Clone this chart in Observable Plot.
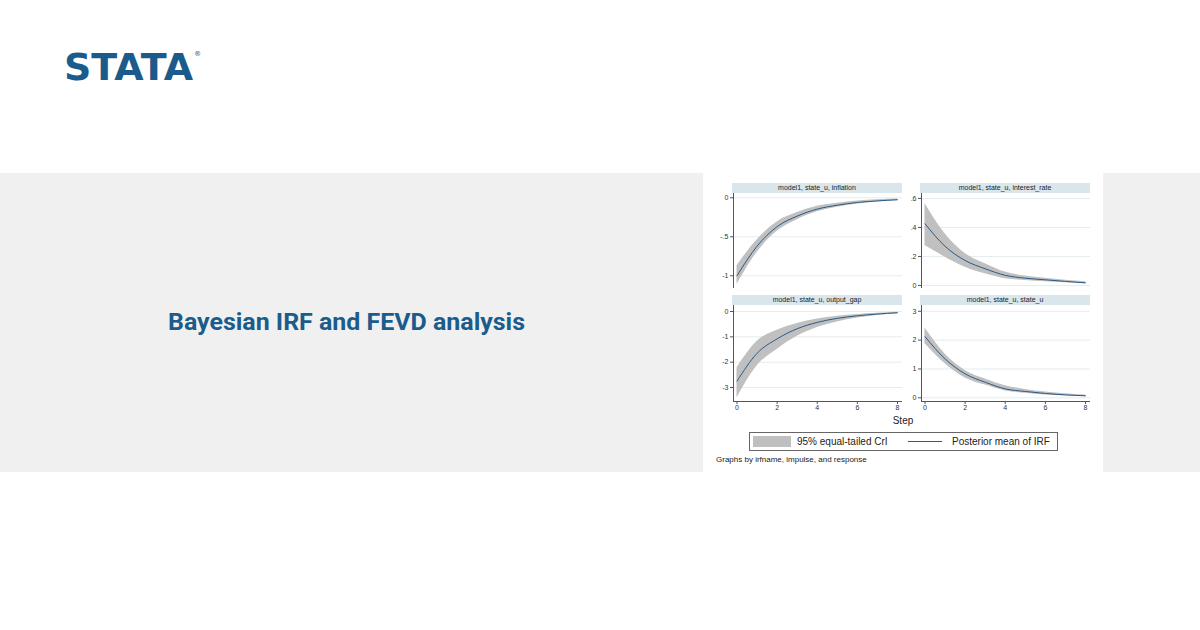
<!DOCTYPE html>
<html>
<head>
<meta charset="utf-8">
<script src="https://cdn.jsdelivr.net/npm/d3@7"></script>
<script src="https://cdn.jsdelivr.net/npm/@observablehq/plot@0.6"></script>
<style>
  html, body { margin: 0; padding: 0; background: #ffffff; }
  #page { position: relative; width: 1200px; height: 630px; overflow: hidden; font-family: "Liberation Sans", Arial, sans-serif; }
  .abs { position: absolute; }
  .band { left: 0; top: 173px; width: 1200px; height: 299px; background: #f0f0f0; }
  .card { left: 703px; top: 173px; width: 400px; height: 299px; background: #ffffff; }
  .strip { height: 10px; width: 170px; background: #d9e6ec; color: #222; font-size: 7px; line-height: 10px; text-align: center; white-space: nowrap; }
  .panel svg { overflow: visible; }
  .legend { left: 749px; top: 432px; width: 307px; height: 17px; border: 1px solid #666; background: #fff; font-size: 10px; color: #222; }
  .legend .sw { position: absolute; left: 3px; top: 3px; width: 38px; height: 11px; background: #bfbfbf; }
  .legend .ln { position: absolute; left: 158px; top: 8px; width: 34px; height: 0; border-top: 1px solid #2a5a85; }
  .legend .t1 { position: absolute; left: 47px; top: 2px; line-height: 13px; }
  .legend .t2 { position: absolute; left: 202px; top: 2px; line-height: 13px; }
</style>
</head>
<body>
<div id="page">
  <svg class="abs" style="left:0;top:0" width="600" height="120">
    <text x="64" y="79.5" fill="#1a5b8c" font-family="DejaVu Sans" font-weight="bold" font-size="37" textLength="129" lengthAdjust="spacingAndGlyphs">STATA</text>
    <text x="194" y="56" fill="#1a5b8c" font-family="DejaVu Sans" font-size="7">®</text>
  </svg>
  <div class="abs band"></div>
  <div class="abs card"></div>
  <svg class="abs" style="left:0;top:173px" width="700" height="299">
    <text x="168" y="156.5" fill="#1b5c8d" font-family="Roboto" font-weight="bold" font-size="24" textLength="357" lengthAdjust="spacingAndGlyphs">Bayesian IRF and FEVD analysis</text>
  </svg>
  <div id="charts"></div>
  <div class="abs" style="left:853px;top:414px;width:100px;text-align:center;font-size:10px;color:#222;line-height:14px">Step</div>
  <div class="abs legend">
    <div class="sw"></div><div class="t1">95% equal-tailed CrI</div>
    <div class="ln"></div><div class="t2">Posterior mean of IRF</div>
  </div>
  <div class="abs" style="left:716px;top:455px;font-size:8px;color:#222;white-space:nowrap">Graphs by irfname, impulse, and response</div>
</div>
<script>
// Impulse-response steps
const steps = [0, 1, 2, 3, 4, 5, 6, 7, 8];

// Response of inflation to a state_u shock
const inflationMean = [-1.0, -0.62, -0.37, -0.235, -0.145, -0.095, -0.06, -0.04, -0.025];
const inflationLo   = [-1.11, -0.70, -0.43, -0.28, -0.18, -0.12, -0.08, -0.055, -0.035];
const inflationHi   = [-0.87, -0.54, -0.31, -0.19, -0.11, -0.07, -0.04, -0.025, -0.015];

// Response of interest_rate
const interestMean = [0.425, 0.27, 0.172, 0.115, 0.07, 0.05, 0.039, 0.028, 0.018];
const interestLo   = [0.275, 0.195, 0.126, 0.08, 0.046, 0.034, 0.025, 0.018, 0.012];
const interestHi   = [0.565, 0.356, 0.22, 0.15, 0.092, 0.065, 0.05, 0.036, 0.025];

// Response of output_gap
const outputMean = [-2.75, -1.65, -1.08, -0.68, -0.43, -0.27, -0.17, -0.10, -0.05];
const outputLo   = [-3.41, -2.15, -1.5, -0.98, -0.63, -0.41, -0.26, -0.16, -0.09];
const outputHi   = [-2.22, -1.18, -0.74, -0.47, -0.30, -0.19, -0.12, -0.07, -0.03];

// Response of state_u to its own shock
const stateMean = [2.12, 1.35, 0.83, 0.54, 0.31, 0.22, 0.15, 0.10, 0.07];
const stateLo   = [1.87, 1.18, 0.69, 0.44, 0.24, 0.16, 0.10, 0.07, 0.04];
const stateHi   = [2.42, 1.52, 0.95, 0.65, 0.42, 0.29, 0.20, 0.14, 0.10];

// Panel titles and axis ticks
const panelTitles = [
  "model1, state_u, inflation",
  "model1, state_u, interest_rate",
  "model1, state_u, output_gap",
  "model1, state_u, state_u"
];
const xTicks = [0, 2, 4, 6, 8];
const inflationTicks = [0, -0.5, -1];
const interestTicks = [0, 0.2, 0.4, 0.6];
const outputTicks = [0, -1, -2, -3];
const stateTicks = [0, 1, 2, 3];

// Stata-style number labels: drop the leading zero (".5", "-.5")
const stataFmt = d => String(+d.toFixed(4)).replace(/^(-?)0\./, "$1.");

const rows = (mean, lo, hi) => steps.map((s, i) => ({step: s, mean: mean[i], lo: lo[i], hi: hi[i]}));

const xDomain = [-0.1745, 8.249];
const panels = [
  {title: panelTitles[0], data: rows(inflationMean, inflationLo, inflationHi), yDomain: [-1.163, 0.055], yTicks: inflationTicks, left: 703, top: 193, bottom: false},
  {title: panelTitles[1], data: rows(interestMean, interestLo, interestHi), yDomain: [-0.021, 0.634], yTicks: interestTicks, left: 891, top: 193, bottom: false},
  {title: panelTitles[2], data: rows(outputMean, outputLo, outputHi), yDomain: [-3.553, 0.237], yTicks: outputTicks, left: 703, top: 305, bottom: true},
  {title: panelTitles[3], data: rows(stateMean, stateLo, stateHi), yDomain: [-0.128, 3.2], yTicks: stateTicks, left: 891, top: 305, bottom: true}
];

const host = document.getElementById("charts");
for (const p of panels) {
  const strip = document.createElement("div");
  strip.className = "abs strip";
  strip.style.left = (p.left + 29) + "px";
  strip.style.top = (p.top - 10) + "px";
  strip.textContent = p.title;
  host.appendChild(strip);

  const marks = [
    Plot.gridY(p.yTicks, {stroke: "#e4ecf0", strokeOpacity: 1}),
    Plot.areaY(p.data, {x: "step", y1: "lo", y2: "hi", fill: "#c0c0c0", fillOpacity: 1, curve: "monotone-x"}),
    Plot.lineY(p.data, {x: "step", y: "mean", stroke: "#2a5a85", strokeWidth: 1, curve: "monotone-x"}),
    Plot.ruleX([xDomain[0]], {stroke: "#555", strokeWidth: 1}),
    Plot.axisY(p.yTicks, {tickSize: 3, tickPadding: 2, tickFormat: stataFmt, fontSize: 7, stroke: "#555", fill: "#333", label: null})
  ];
  if (p.bottom) {
    marks.push(Plot.ruleY([p.yDomain[0]], {stroke: "#555", strokeWidth: 1}));
    marks.push(Plot.axisX(xTicks, {tickSize: 3, tickPadding: 1, tickFormat: d => String(d), fontSize: 7, stroke: "#555", fill: "#333", label: null}));
  }
  const chart = Plot.plot({
    width: 199,
    height: p.bottom ? 114 : 95,
    marginLeft: 30,
    marginRight: 0,
    marginTop: 0,
    marginBottom: p.bottom ? 18 : 0,
    style: {background: "transparent", fontFamily: "Liberation Sans, Arial, sans-serif", color: "#333"},
    x: {domain: xDomain, axis: null},
    y: {domain: p.yDomain, axis: null},
    marks
  });
  const wrap = document.createElement("div");
  wrap.className = "abs panel";
  wrap.style.left = p.left + "px";
  wrap.style.top = p.top + "px";
  wrap.appendChild(chart);
  host.appendChild(wrap);
}
</script>
</body>
</html>
